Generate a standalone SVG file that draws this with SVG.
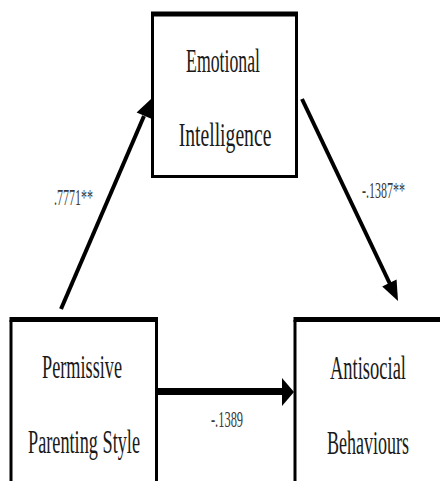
<svg xmlns="http://www.w3.org/2000/svg" width="440" height="481" viewBox="0 0 440 481">
<style>
.node text{font-family:"Liberation Serif","Times New Roman",serif;font-size:34px;fill:#1a1a1a;text-anchor:middle}
.side{stroke:#000;stroke-width:3;fill:none}
.top{stroke:#000;stroke-width:5;fill:none}
.lbl{font-family:"Liberation Serif","Times New Roman",serif;font-size:24px;fill:#3a3a3a;text-anchor:middle}
.conn line{stroke:#000}
</style>
<rect width="440" height="481" fill="#fff"/>
<g id="node-ei" class="node">
<line class="side" x1="152.5" y1="14" x2="152.5" y2="177"/>
<line class="side" x1="296.5" y1="14" x2="296.5" y2="177"/>
<line class="side" x1="151" y1="176.5" x2="298" y2="176.5"/>
<line class="top" x1="151" y1="14" x2="298" y2="14"/>
<text transform="translate(223,72) scale(0.522,1)">Emotional</text>
<text transform="translate(225,146) scale(0.578,1)">Intelligence</text>
</g>
<g id="node-pps" class="node">
<line class="side" x1="11" y1="320" x2="11" y2="485"/>
<line class="side" x1="156.5" y1="320" x2="156.5" y2="485"/>
<line class="top" x1="9.5" y1="319.5" x2="158" y2="319.5"/>
<text transform="translate(82,378) scale(0.536,1)">Permissive</text>
<text transform="translate(84,453) scale(0.537,1)">Parenting Style</text>
</g>
<g id="node-ab" class="node">
<line class="side" x1="295" y1="320" x2="295" y2="485"/>
<line class="top" x1="293.5" y1="319.5" x2="445" y2="319.5"/>
<text transform="translate(368,379) scale(0.544,1)">Antisocial</text>
<text transform="translate(368,454) scale(0.53,1)">Behaviours</text>
</g>
<g id="connectors" class="conn">
<line x1="61" y1="309" x2="144" y2="116" stroke-width="4"/>
<polygon points="151,99 151.3,118.7 136.6,112.5" fill="#000"/>
<line x1="302" y1="99" x2="390" y2="284" stroke-width="4"/>
<polygon points="398,301 382.2,286.4 396.6,279.6" fill="#000"/>
<line x1="158" y1="391.5" x2="284" y2="391.5" stroke-width="7"/>
<polygon points="282,378 294,392 282,406" fill="#000"/>
<text class="lbl" transform="translate(73.5,205) scale(0.5,1)">.7771**</text>
<text class="lbl" transform="translate(383.5,198) scale(0.5,1)">-.1387**</text>
<text class="lbl" transform="translate(227,427) scale(0.52,1)">-.1389</text>
</g>
</svg>
